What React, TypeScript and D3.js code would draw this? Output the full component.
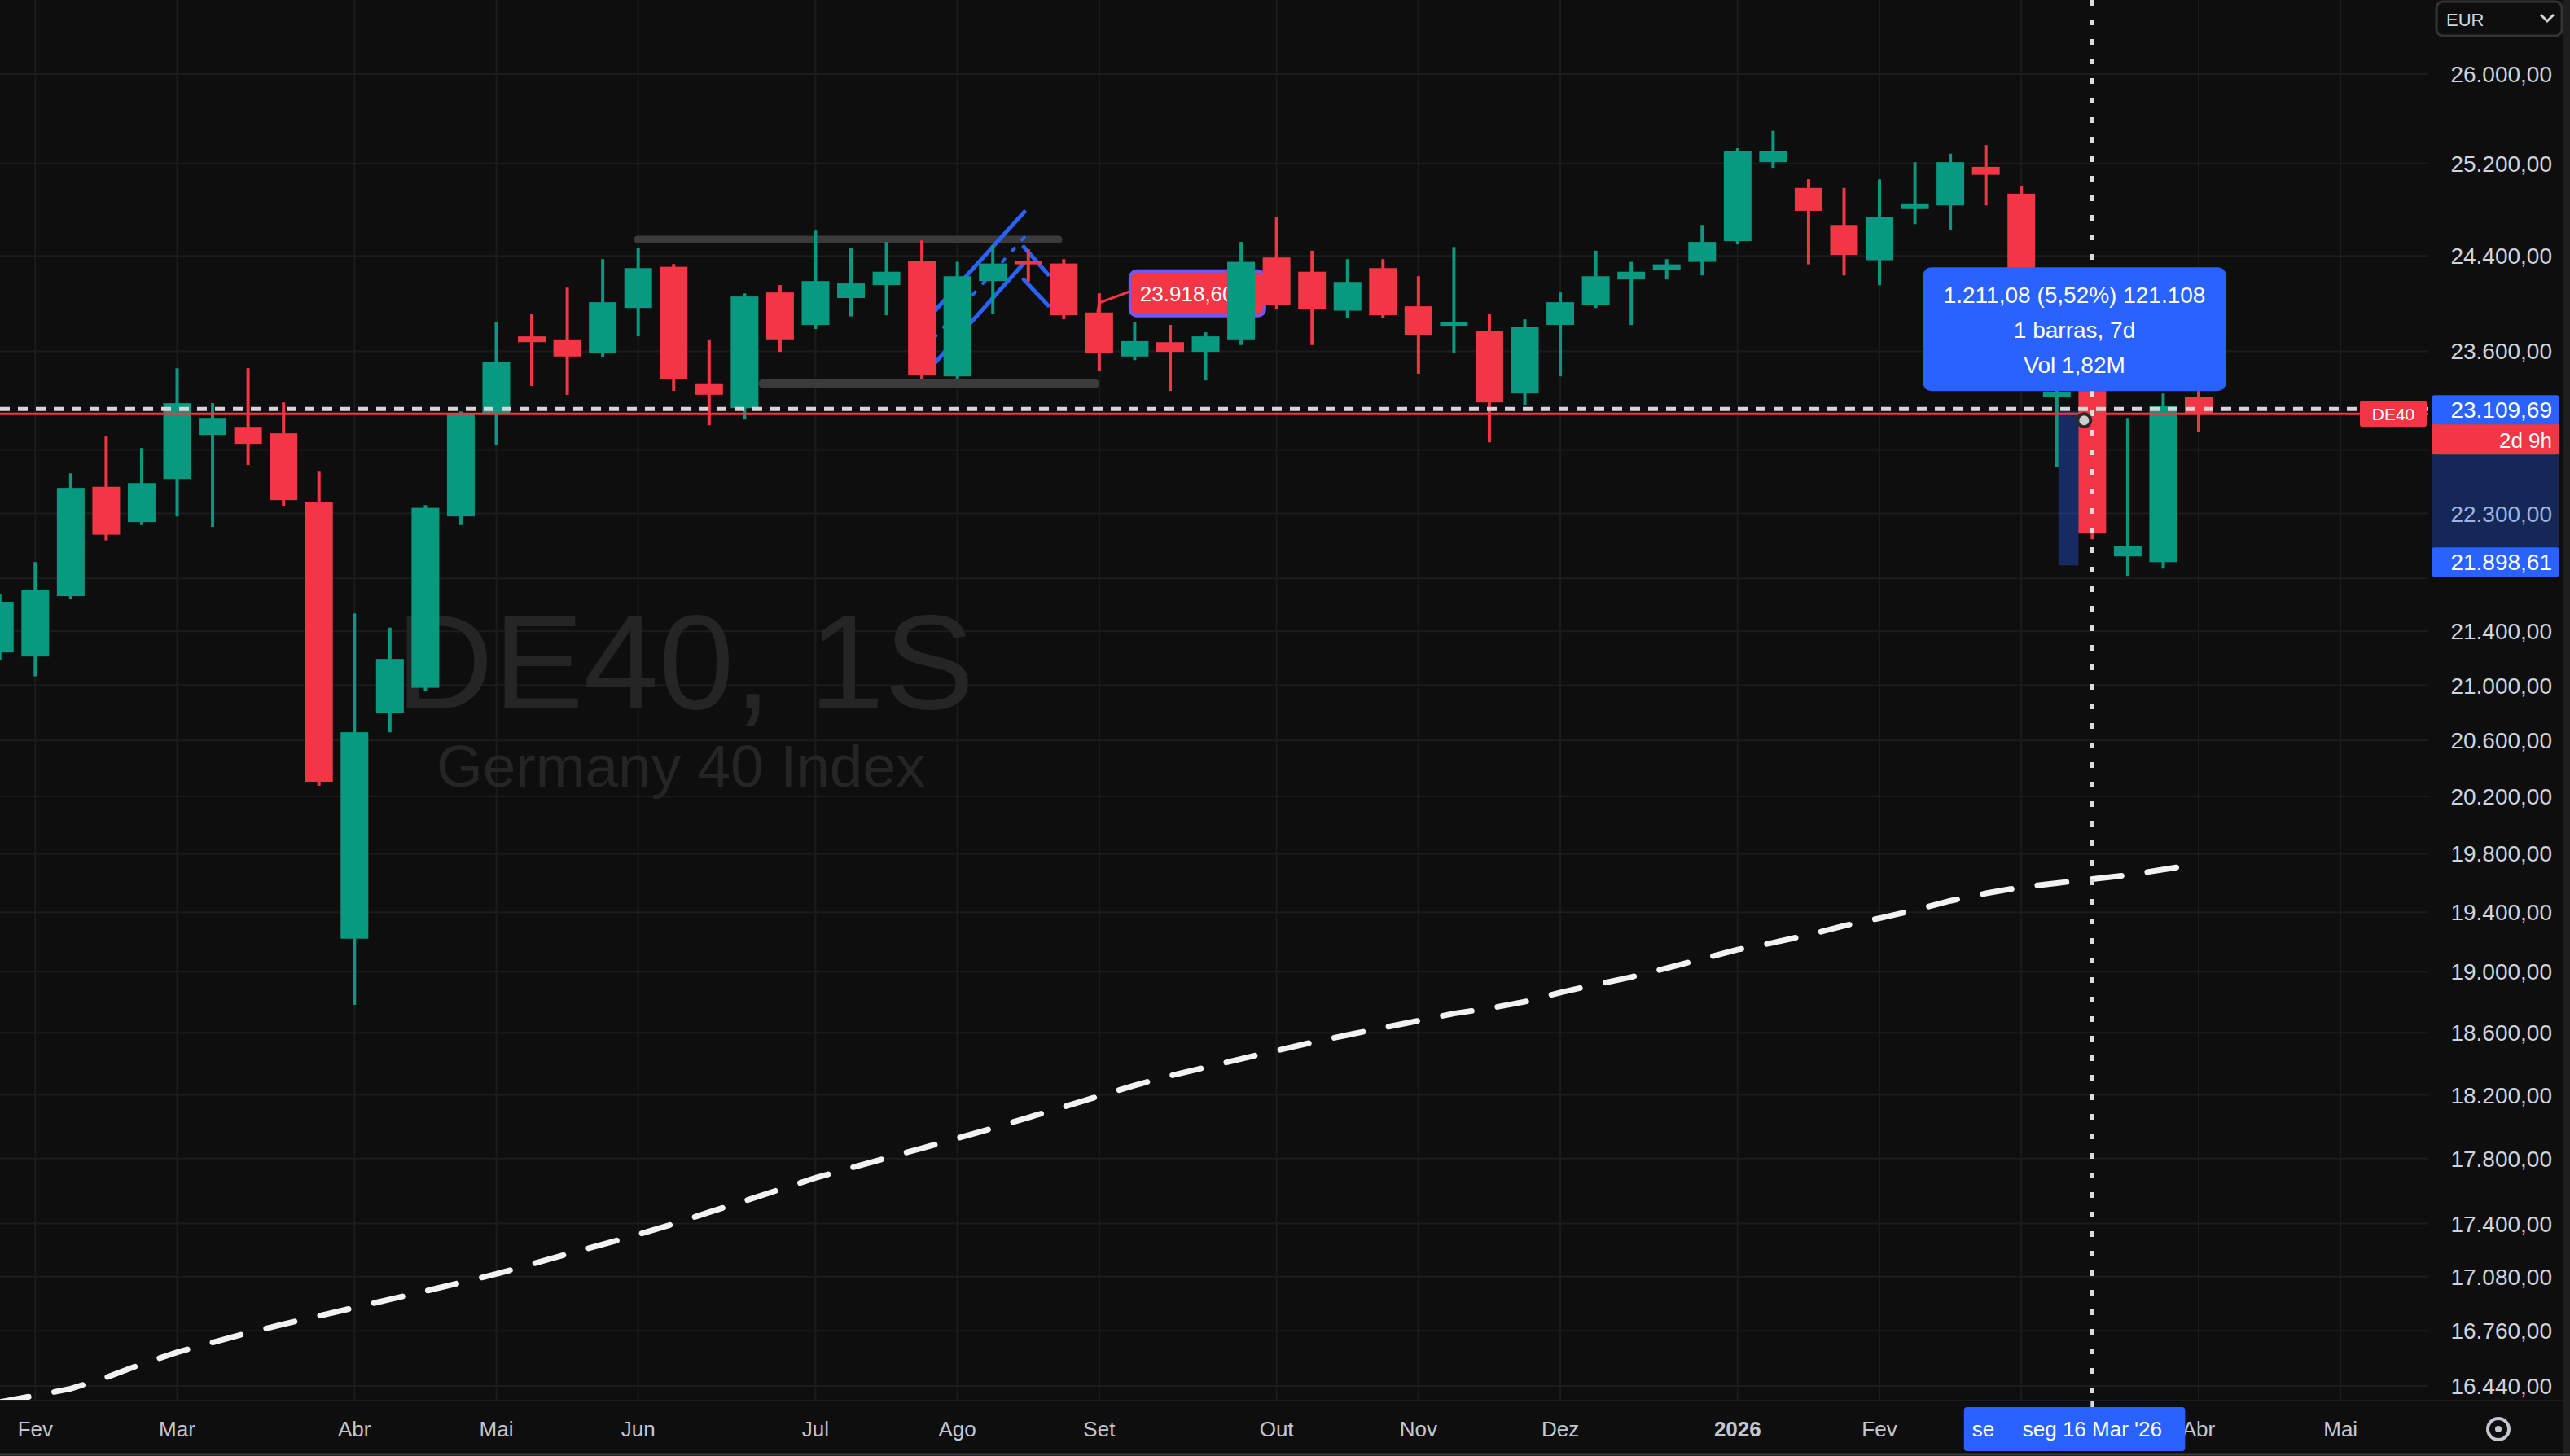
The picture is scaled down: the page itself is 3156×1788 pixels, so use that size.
import * as d3 from 'd3';

const W = 3156;
const H = 1788;
const PLOT_R = 2982;
const PLOT_B = 1720;
const FONT = '"Liberation Sans", Arial, sans-serif';

const WEEK = 7 * 24 * 3600 * 1000;
const FEB3 = Date.UTC(2025, 1, 3);

// weekly DE40 candles, first one is the week of 27 Jan 2025: [open, high, low, close]
const candles: [number, number, number, number][] = [
  [21243, 21677, 21189, 21622],
  [21213, 21924, 21066, 21714],
  [21665, 22615, 21646, 22500],
  [22509, 22907, 22091, 22135],
  [22233, 22816, 22210, 22538],
  [22570, 23461, 22277, 23176],
  [22920, 23176, 22195, 23057],
  [22985, 23461, 22680, 22848],
  [22933, 23182, 22360, 22404],
  [22388, 22628, 20275, 20304],
  [19221, 21535, 18781, 20659],
  [20801, 21427, 20659, 21195],
  [20982, 22366, 20961, 22344],
  [22277, 23109, 22210, 23090],
  [23090, 23841, 22842, 23510],
  [23723, 23912, 23315, 23675],
  [23698, 24131, 23242, 23557],
  [23582, 24372, 23555, 24008],
  [23960, 24470, 23723, 24296],
  [24307, 24331, 23275, 23370],
  [23337, 23698, 22998, 23244],
  [23136, 24083, 23044, 24056],
  [24090, 24152, 23595, 23698],
  [23818, 24616, 23784, 24186],
  [24043, 24470, 23889, 24166],
  [24152, 24519, 23899, 24265],
  [24360, 24532, 23370, 23401],
  [23394, 24349, 23368, 24227],
  [24186, 24491, 23912, 24335],
  [24360, 24457, 24179, 24328],
  [24335, 24372, 23865, 23899],
  [23922, 24083, 23441, 23582],
  [23557, 23841, 23527, 23684],
  [23675, 23818, 23275, 23595],
  [23595, 23757, 23361, 23723],
  [23698, 24519, 23651, 24349],
  [24386, 24736, 23947, 23984],
  [24265, 24444, 23651, 23947],
  [23937, 24372, 23874, 24179],
  [24296, 24372, 23878, 23899],
  [23974, 24227, 23416, 23736],
  [23811, 24477, 23582, 23841],
  [23770, 23912, 22861, 23182],
  [23255, 23865, 23163, 23804],
  [23818, 24090, 23394, 24008],
  [23984, 24444, 23960, 24227],
  [24200, 24349, 23818, 24265],
  [24282, 24372, 24200, 24328],
  [24349, 24665, 24234, 24519],
  [24526, 25335, 24498, 25313],
  [25212, 25490, 25162, 25313],
  [24986, 25062, 24328, 24787],
  [24665, 24986, 24234, 24408],
  [24363, 25062, 24152, 24736],
  [24802, 25212, 24672, 24851],
  [24834, 25287, 24623, 25212],
  [25171, 25363, 24834, 25101],
  [24936, 25001, 24268, 24296],
  [23229, 23302, 22667, 23269],
  [23275, 23302, 22100, 22144],
  [21968, 23057, 21819, 22050],
  [21924, 23255, 21874, 23156],
  [23229, 23275, 22946, 23090],
];

// dashed moving average, one value per candle
const maValues = [
  16347, 16385, 16424, 16489, 16566, 16635, 16692, 16748, 16799, 16848, 16896,
  16945, 16994, 17045, 17096, 17155, 17215, 17274, 17334, 17398, 17469, 17538,
  17609, 17680, 17742, 17803, 17864, 17926, 17989, 18057, 18124, 18193, 18261,
  18322, 18376, 18430, 18484, 18537, 18585, 18632, 18678, 18725, 18759, 18802,
  18863, 18915, 18965, 19024, 19086, 19148, 19194, 19247, 19308, 19359, 19414,
  19477, 19528, 19570, 19598, 19625, 19653, 19691, 19730,
];

const priceTicks = [
  26000, 25200, 24400, 23600, 22800, 22300, 21800, 21400, 21000, 20600, 20200,
  19800, 19400, 19000, 18600, 18200, 17800, 17400, 17080, 16760, 16440,
];
// these two sit under the price / measure labels on the axis
const hiddenTicks = [22800, 21800];

const monthTicks: [string, string][] = [
  ['2025-02-03', 'Fev'], ['2025-03-03', 'Mar'], ['2025-04-07', 'Abr'],
  ['2025-05-05', 'Mai'], ['2025-06-02', 'Jun'], ['2025-07-07', 'Jul'],
  ['2025-08-04', 'Ago'], ['2025-09-01', 'Set'], ['2025-10-06', 'Out'],
  ['2025-11-03', 'Nov'], ['2025-12-01', 'Dez'], ['2026-01-05', '2026'],
  ['2026-02-02', 'Fev'], ['2026-03-02', 'Mar'], ['2026-04-06', 'Abr'],
  ['2026-05-04', 'Mai'],
];

// drawings, anchored on (week index from 3 Feb 2025, price)
const grayLevels = [
  { from: 16.98, to: 28.86, price: 24540, width: 9 },
  { from: 20.52, to: 29.88, price: 23335, width: 11 },
];
const channels = [
  { from: 25.34, to: 27.89, upper: [23927, 24778], lower: [23494, 24343], mid: true },
  { from: 27.87, to: 28.56, upper: [24477, 24241], lower: [24200, 23981], mid: false },
];
const callout = { bar: 30, price: 23922, text: '23.918,60' };
const measure = { from: 57, to: 58, low: 21898.61, high: 23109.69 };
const measureLines = ['1.211,08 (5,52%) 121.108', '1 barras, 7d', 'Vol 1,82M'];
const crosshair = { bar: 58, price: 23109.69 };
const lastPrice = 23090;
const countdown = '2d 9h';
// start label of the measured range is mostly hidden behind the crosshair date
const timeLabels: [number, string][] = [[57, 'se'], [58, "seg 16 Mar '26"]];

const GREEN = '#089981';
const RED = '#f23645';
const BLUE = '#2962ff';

const ptBR = d3.formatLocale({ decimal: ',', thousands: '.', grouping: [3], currency: ['', ''] });
const fmt = ptBR.format(',.2f');

export default function App() {
  const x = d3
    .scaleUtc()
    .domain([new Date(FEB3), new Date(FEB3 + 61 * WEEK)])
    .range([43.3, 2700]);
  const y = d3.scaleLog().domain([16440, 26000]).range([1702, 91]);
  const xb = (i: number) => x(new Date(FEB3 + i * WEEK));

  const bodyW = 34;
  const maLine = d3
    .line<number>()
    .x((_, k) => xb(k - 1))
    .y((v) => y(v));

  const mx0 = xb(measure.from) + 2;
  const mx1 = xb(measure.to) - bodyW / 2;
  const myTop = y(measure.high);
  const myBot = y(measure.low);
  const tipCx = (xb(measure.from) + xb(measure.to)) / 2;
  const tipBottom = myTop - 25;
  const tipTop = tipBottom - 152;

  const chX = xb(crosshair.bar);
  const chY = y(crosshair.price);
  const lastY = y(lastPrice);

  const cx = xb(callout.bar);
  const cy = y(callout.price);

  const labelW = 228;
  const dateLabelLeft = xb(measure.from) - labelW / 2;
  const dateLabelRight = chX + labelW / 2;

  return (
    <svg
      width={W}
      height={H}
      style={{ position: 'absolute', left: 0, top: 0, display: 'block' }}
      fontFamily={FONT}
    >
      <defs>
        <clipPath id="plot">
          <rect x={0} y={0} width={PLOT_R} height={PLOT_B} />
        </clipPath>
      </defs>
      <rect width={W} height={H} fill="#0e0e0e" />

      {/* grid */}
      <g stroke="#1c1c1c" strokeWidth={2}>
        {priceTicks.map((p) => (
          <line key={p} x1={0} x2={PLOT_R} y1={y(p)} y2={y(p)} />
        ))}
        {monthTicks.map(([d]) => {
          const xx = x(new Date(d + 'T00:00:00Z'));
          return <line key={d} x1={xx} x2={xx} y1={0} y2={PLOT_B} />;
        })}
      </g>

      {/* watermark */}
      <text x={486} y={870} fontSize={166} fill="#252525">DE40, 1S</text>
      <text x={536} y={966} fontSize={73} fill="#252525">Germany 40 Index</text>

      <g clipPath="url(#plot)">
        {/* gray levels */}
        {grayLevels.map((g, k) => (
          <line
            key={k}
            x1={xb(g.from)}
            x2={xb(g.to)}
            y1={y(g.price)}
            y2={y(g.price)}
            stroke="#3b3b3b"
            strokeWidth={g.width}
            strokeLinecap="round"
          />
        ))}

        {/* blue channels */}
        {channels.map((c, k) => (
          <g key={k} stroke={BLUE} strokeWidth={5} strokeLinecap="round">
            <line x1={xb(c.from)} x2={xb(c.to)} y1={y(c.upper[0])} y2={y(c.upper[1])} />
            <line x1={xb(c.from)} x2={xb(c.to)} y1={y(c.lower[0])} y2={y(c.lower[1])} />
            {c.mid && (
              <line
                x1={xb(c.from)}
                x2={xb(c.to)}
                y1={(y(c.upper[0]) + y(c.lower[0])) / 2}
                y2={(y(c.upper[1]) + y(c.lower[1])) / 2}
                strokeWidth={4}
                strokeDasharray="4 14"
              />
            )}
          </g>
        ))}

        {/* callout label */}
        <polyline
          points={`${cx + 38},${cy - 26} ${cx},${cy - 12} ${cx - 2},${cy}`}
          fill="none"
          stroke={RED}
          strokeWidth={3}
        />
        <rect x={cx + 38} y={cy - 51} width={165} height={55} rx={8} fill={RED} stroke="#7356ff" strokeWidth={4} />
        <text x={cx + 50} y={cy - 14} fontSize={26} fill="#ffffff">{callout.text}</text>

        {/* candles */}
        {candles.map(([o, h, l, c], k) => {
          const xx = xb(k - 1);
          const col = c >= o ? GREEN : RED;
          const top = y(Math.max(o, c));
          const bot = y(Math.min(o, c));
          return (
            <g key={k}>
              <line x1={xx} x2={xx} y1={y(h)} y2={y(l)} stroke={col} strokeWidth={4} />
              <rect x={xx - bodyW / 2} y={top} width={bodyW} height={Math.max(3, bot - top)} fill={col} />
            </g>
          );
        })}

        {/* measure range */}
        <rect x={mx0} y={myTop} width={mx1 - mx0} height={myBot - myTop} fill={BLUE} fillOpacity={0.35} />

        {/* moving average */}
        <path
          d={maLine(maValues) ?? ''}
          fill="none"
          stroke="#f2f2f2"
          strokeWidth={7}
          strokeDasharray="36 32"
          strokeLinecap="round"
        />

        {/* last price line */}
        <line x1={0} x2={PLOT_R} y1={lastY} y2={lastY} stroke={RED} strokeWidth={3} />

        {/* crosshair */}
        <line x1={0} x2={PLOT_R} y1={chY - 3} y2={chY - 3} stroke="#d6d6d6" strokeWidth={5} strokeDasharray="12 10" />
        <line x1={chX} x2={chX} y1={0} y2={PLOT_B} stroke="#dcdcdc" strokeWidth={5} strokeDasharray="7 17" />
        <circle cx={chX - 10} cy={chY + 11} r={8} fill="#cfcfcf" stroke="#2a2a2a" strokeWidth={4} />

        {/* measure tooltip */}
        <rect x={tipCx - 186} y={tipTop} width={372} height={tipBottom - tipTop} rx={10} fill={BLUE} />
        {measureLines.map((t, k) => (
          <text key={k} x={tipCx} y={tipTop + 44 + k * 43} fontSize={28} fill="#ffffff" textAnchor="middle">
            {t}
          </text>
        ))}
      </g>

      {/* symbol label */}
      <rect x={2898} y={lastY - 16} width={82} height={32} rx={3} fill={RED} />
      <text x={2939} y={lastY + 8} fontSize={21} fill="#ffffff" textAnchor="middle">DE40</text>

      {/* price axis */}
      <g fontSize={28} fill="#d1d4dc" textAnchor="end">
        {priceTicks
          .filter((p) => !hiddenTicks.includes(p))
          .map((p) => (
            <text key={p} x={3134} y={y(p) + 10}>{fmt(p)}</text>
          ))}
      </g>
      <rect x={2986} y={myTop} width={157} height={myBot - myTop} fill={BLUE} fillOpacity={0.3} />
      <rect x={2986} y={lastY - 20} width={157} height={70} rx={4} fill={RED} />
      <text x={3134} y={lastY + 42} fontSize={26} fill="#ffffff" textAnchor="end">{countdown}</text>
      <rect x={2986} y={myTop - 20} width={157} height={36} rx={4} fill={BLUE} />
      <text x={3134} y={myTop + 8} fontSize={28} fill="#ffffff" textAnchor="end">{fmt(measure.high)}</text>
      <rect x={2986} y={myBot - 22} width={157} height={36} rx={4} fill={BLUE} />
      <text x={3134} y={myBot + 6} fontSize={28} fill="#ffffff" textAnchor="end">{fmt(measure.low)}</text>

      {/* currency box */}
      <rect x={2992} y={2} width={154} height={42} rx={8} fill="#0e0e0e" stroke="#333333" strokeWidth={3} />
      <text x={3004} y={32} fontSize={22} fill="#d1d4dc">EUR</text>
      <path d="M3120,18 L3128,26 L3136,18" fill="none" stroke="#d1d4dc" strokeWidth={3} />

      {/* time axis */}
      <line x1={0} x2={W} y1={PLOT_B} y2={PLOT_B} stroke="#1c1c1c" strokeWidth={2} />
      <g fontSize={26} fill="#c4c7cf" textAnchor="middle">
        {monthTicks
          .filter(([d]) => {
            const xx = x(new Date(d + 'T00:00:00Z'));
            return xx < dateLabelLeft || xx > dateLabelRight + 8;
          })
          .map(([d, label]) => (
            <text key={d} x={x(new Date(d + 'T00:00:00Z'))} y={1764} fontWeight={label === '2026' ? 700 : 400}>
              {label}
            </text>
          ))}
      </g>
      {timeLabels.map(([bar, t], k) => (
        <g key={bar}>
          <rect x={xb(bar) - labelW / 2} y={1728} width={labelW} height={54} rx={4} fill={BLUE} />
          <text
            x={k === 0 ? xb(bar) - labelW / 2 + 10 : xb(bar)}
            y={1764}
            fontSize={26}
            fill="#ffffff"
            textAnchor={k === 0 ? 'start' : 'middle'}
          >
            {t}
          </text>
        </g>
      ))}
      <line x1={chX} x2={chX} y1={PLOT_B} y2={1728} stroke="#dcdcdc" strokeWidth={4} />

      {/* settings icon */}
      <circle cx={3068} cy={1755} r={13} fill="none" stroke="#c4c7cf" strokeWidth={4} />
      <circle cx={3068} cy={1755} r={4} fill="#c4c7cf" />

      <rect x={3147} y={0} width={9} height={H} fill="#1e1e1e" />
      <line x1={0} x2={W} y1={1786} y2={1786} stroke="#3a3a3a" strokeWidth={3} />
    </svg>
  );
}
